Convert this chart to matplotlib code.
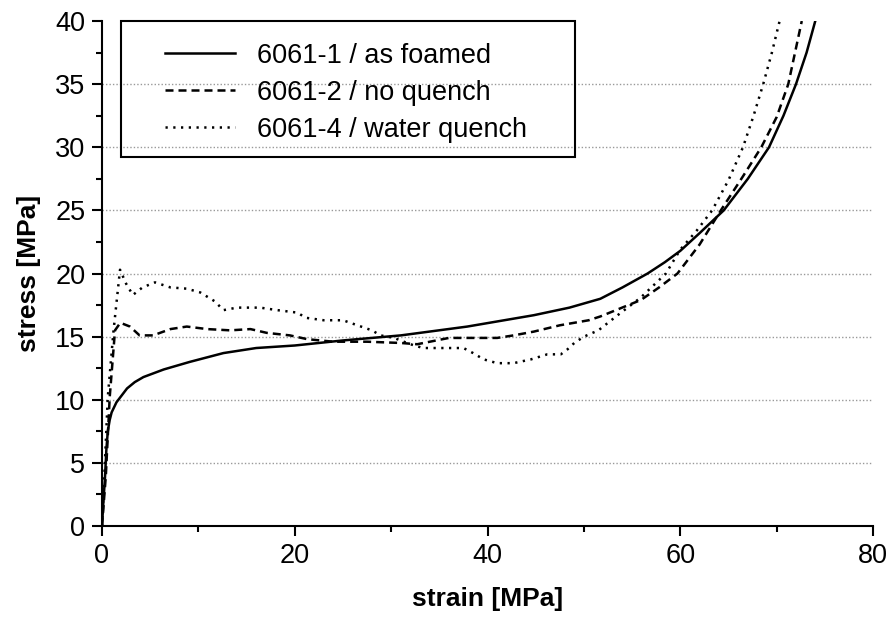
import matplotlib.pyplot as plt
from matplotlib.patches import Rectangle
from matplotlib.ticker import MultipleLocator

plt.rcParams['font.family'] = ['Liberation Sans', 'DejaVu Sans']

# strain / stress readings for the three foams
strain_1 = [0, 0.15, 0.3, 0.45, 0.6, 0.8, 1.0, 1.5, 2.0, 2.6, 3.4, 4.3, 6.4,
            9.1, 12.6, 16, 20, 25, 31, 37.9, 44.8, 48.5, 51.7, 54, 56.6, 58.4,
            60, 62, 64.5, 67, 69.2, 70.7, 72, 73.1, 74]
stress_1 = [0, 2.0, 3.7, 6.0, 7.5, 8.4, 9.0, 9.8, 10.3, 10.9, 11.4, 11.8,
            12.4, 13.0, 13.7, 14.1, 14.3, 14.7, 15.1, 15.8, 16.7, 17.3, 18.0,
            18.9, 20, 20.9, 21.8, 23.2, 25, 27.5, 30, 32.5, 35, 37.5, 40]

strain_2 = [0, 0.4, 0.8, 1.35, 1.9, 2.9, 3.9, 5.3, 7.1, 8.8, 10.9, 13.3, 15.4,
            17.1, 19.5, 21.3, 24, 27.5, 31, 32.7, 36, 41, 42.7, 44.8, 47.5,
            50.5, 51.7, 55.9, 57.8, 59.7, 62, 64.2, 66.5, 68.4, 70, 71.2, 72.6]
stress_2 = [0, 4, 10.2, 15.5, 16.1, 15.8, 15.1, 15.1, 15.6, 15.8, 15.6, 15.5,
            15.6, 15.3, 15.1, 14.8, 14.6, 14.6, 14.5, 14.4, 14.9, 14.9, 15.1,
            15.4, 15.9, 16.3, 16.6, 17.9, 18.9, 20, 22.3, 25, 27.7, 30, 32.4,
            35, 40]

strain_4 = [0, 0.3, 0.6, 1.2, 1.87, 2.5, 3.2, 4.2, 5.5, 7.1, 8.8, 10.2, 11.7,
            12.6, 14, 16.4, 18.2, 20.3, 21.1, 23, 25, 26.5, 28, 28.9, 30.3, 32,
            33.3, 36.2, 37.5, 38.5, 39.6, 41, 42.7, 44.5, 46.2, 47.6, 48.3, 49,
            50, 51.5, 53.5, 55.9, 58.5, 60, 61.7, 63.3, 65, 66.5, 67.6, 68.6,
            69.5, 70.3]
stress_4 = [0, 5, 10.2, 15.5, 20.3, 19.2, 18.3, 18.9, 19.3, 18.9, 18.8, 18.5,
            17.8, 17.1, 17.3, 17.3, 17.1, 16.9, 16.5, 16.3, 16.3, 15.9, 15.5,
            15.1, 14.9, 14.4, 14.1, 14.1, 14.1, 13.7, 13.2, 12.9, 12.9, 13.2,
            13.6, 13.6, 14.0, 14.5, 15.0, 15.5, 16.7, 18.1, 20, 21.9, 23.4, 25,
            27.4, 30, 32.5, 35, 37.5, 40]

labels = ['6061-1 / as foamed', '6061-2 / no quench', '6061-4 / water quench']

fig = plt.figure(figsize=(8.9, 6.19), dpi=100)
ax = fig.add_axes([0.1146, 0.1502, 0.8664, 0.8158])

ax.plot(strain_1, stress_1, color='black', lw=1.8, label=labels[0])
ax.plot(strain_2, stress_2, color='black', lw=1.8, ls=(0, (3.2, 2.0)), label=labels[1])
ax.plot(strain_4, stress_4, color='black', lw=1.8, ls=(0, (0.9, 2.2)), label=labels[2])

ax.set_xlim(0, 80)
ax.set_ylim(0, 40)
ax.xaxis.set_major_locator(MultipleLocator(20))
ax.xaxis.set_minor_locator(MultipleLocator(10))
ax.yaxis.set_major_locator(MultipleLocator(5))
ax.yaxis.set_minor_locator(MultipleLocator(2.5))

for y in range(5, 40, 5):
    ax.axhline(y, color='#999999', lw=1, ls=(0, (1, 1.5)), zorder=0)

for side in ['top', 'right']:
    ax.spines[side].set_visible(False)
for side in ['left', 'bottom']:
    ax.spines[side].set_linewidth(1.5)
ax.tick_params(which='major', direction='out', length=7, width=1.5, labelsize=19.5, pad=5)
ax.tick_params(which='minor', direction='out', length=4, width=1.5)

ax.set_xlabel('strain [MPa]', fontsize=19, fontweight='bold', labelpad=13)
ax.set_ylabel('stress [MPa]', fontsize=19, fontweight='bold', labelpad=10)

# legend box drawn separately so its padding matches the original
ax.add_patch(Rectangle((0.0246, 0.7307), 0.5889, 0.2693, transform=ax.transAxes,
                       fill=False, ec='black', lw=1.5, zorder=5, clip_on=False))
ax.legend(loc='upper left', bbox_to_anchor=(0.0817, 0.957), borderaxespad=0,
          borderpad=0, frameon=False, fontsize=19.5, handlelength=2.6,
          handletextpad=0.8, labelspacing=0.41)

fig.savefig('out.png', dpi=100)
